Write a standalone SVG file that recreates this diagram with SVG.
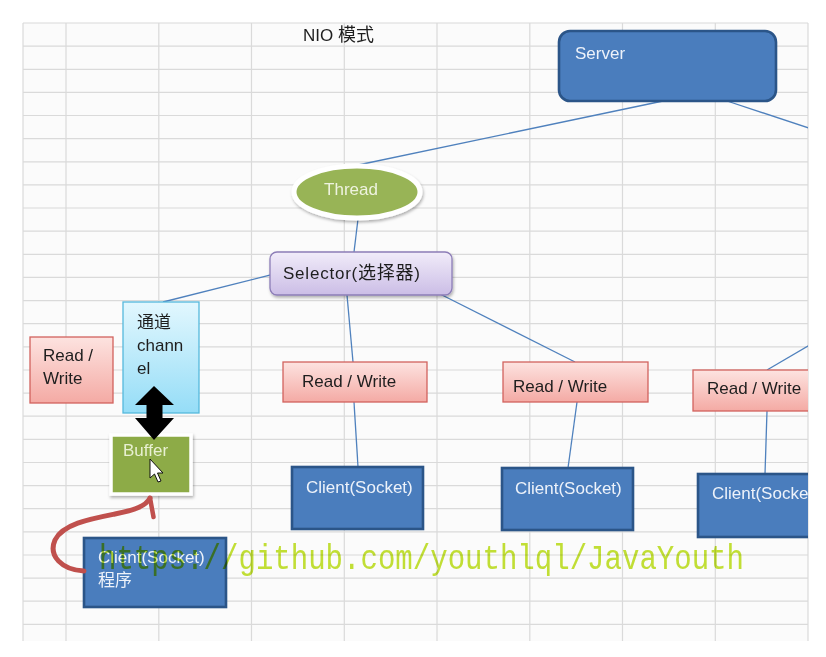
<svg xmlns="http://www.w3.org/2000/svg" width="826" height="657" viewBox="0 0 826 657">
<defs>
<style>
.grid line{stroke:#dadada;stroke-width:1.2}
.conn{stroke:#4f81bd;stroke-width:1.3;fill:none}
.blue{fill:#4a7dbd;stroke:#2b5588;stroke-width:2.6}
.pink{fill:url(#gPink);stroke:#d2625d;stroke-width:1.3}
.lt{font-family:"Liberation Sans","Noto Sans CJK SC",sans-serif;font-size:17px}
.wt{fill:#edf2fa}
.dk{fill:#1e1e1e}
</style>
<linearGradient id="gPink" x1="0" y1="0" x2="0" y2="1">
<stop offset="0" stop-color="#fde3e0"/><stop offset="1" stop-color="#f4aaa4"/>
</linearGradient>
<linearGradient id="gBlue" x1="0" y1="0" x2="0" y2="1">
<stop offset="0" stop-color="#e2f7fe"/><stop offset="1" stop-color="#95ddf7"/>
</linearGradient>
<linearGradient id="gLav" x1="0" y1="0" x2="0" y2="1">
<stop offset="0" stop-color="#f1ecf9"/><stop offset="1" stop-color="#cbbde6"/>
</linearGradient>
<filter id="sh" x="-20%" y="-20%" width="140%" height="150%">
<feDropShadow dx="1" dy="2" stdDeviation="1.8" flood-color="#000" flood-opacity="0.3"/>
</filter>
<clipPath id="clipR"><rect x="0" y="0" width="808" height="657"/></clipPath>
</defs>
<rect width="826" height="657" fill="#ffffff"/>
<g id="grid" class="grid">
<rect x="23" y="23" width="785" height="618" fill="#fbfbfb"/>
<line x1="23" y1="23" x2="23" y2="641"/>
<line x1="66" y1="23" x2="66" y2="641"/>
<line x1="158.8" y1="23" x2="158.8" y2="641"/>
<line x1="251.5" y1="23" x2="251.5" y2="641"/>
<line x1="344.3" y1="23" x2="344.3" y2="641"/>
<line x1="437" y1="23" x2="437" y2="641"/>
<line x1="529.8" y1="23" x2="529.8" y2="641"/>
<line x1="622.5" y1="23" x2="622.5" y2="641"/>
<line x1="715.3" y1="23" x2="715.3" y2="641"/>
<line x1="808" y1="23" x2="808" y2="641"/>
<line x1="23" y1="23" x2="808" y2="23"/>
<line x1="23" y1="46.1" x2="808" y2="46.1"/>
<line x1="23" y1="69.3" x2="808" y2="69.3"/>
<line x1="23" y1="92.4" x2="808" y2="92.4"/>
<line x1="23" y1="115.5" x2="808" y2="115.5"/>
<line x1="23" y1="138.7" x2="808" y2="138.7"/>
<line x1="23" y1="161.8" x2="808" y2="161.8"/>
<line x1="23" y1="184.9" x2="808" y2="184.9"/>
<line x1="23" y1="208" x2="808" y2="208"/>
<line x1="23" y1="231.2" x2="808" y2="231.2"/>
<line x1="23" y1="254.3" x2="808" y2="254.3"/>
<line x1="23" y1="277.4" x2="808" y2="277.4"/>
<line x1="23" y1="300.6" x2="808" y2="300.6"/>
<line x1="23" y1="323.7" x2="808" y2="323.7"/>
<line x1="23" y1="346.8" x2="808" y2="346.8"/>
<line x1="23" y1="370" x2="808" y2="370"/>
<line x1="23" y1="393.1" x2="808" y2="393.1"/>
<line x1="23" y1="416.2" x2="808" y2="416.2"/>
<line x1="23" y1="439.3" x2="808" y2="439.3"/>
<line x1="23" y1="462.5" x2="808" y2="462.5"/>
<line x1="23" y1="485.6" x2="808" y2="485.6"/>
<line x1="23" y1="508.7" x2="808" y2="508.7"/>
<line x1="23" y1="531.9" x2="808" y2="531.9"/>
<line x1="23" y1="555" x2="808" y2="555"/>
<line x1="23" y1="578.1" x2="808" y2="578.1"/>
<line x1="23" y1="601.2" x2="808" y2="601.2"/>
<line x1="23" y1="624.4" x2="808" y2="624.4"/>
</g>
<text id="title" class="lt dk" x="303" y="41">NIO <tspan font-size="18">模式</tspan></text>
<g id="connectors" clip-path="url(#clipR)">
<path class="conn" d="M663,101 L358,165"/>
<path class="conn" d="M727,101 L830,135"/>
<path class="conn" d="M358,219 L354,252"/>
<path class="conn" d="M290,270 L163,302"/>
<path class="conn" d="M347,295 L353,362"/>
<path class="conn" d="M440,294 L575,362"/>
<path class="conn" d="M354,402 L358,467"/>
<path class="conn" d="M577,402 L568,468"/>
<path class="conn" d="M767,370 L830,333"/>
<path class="conn" d="M767,411 L765,474"/>
</g>
<g id="server">
<rect x="559" y="31" width="217" height="70" rx="11" class="blue" stroke-width="3"/>
<text class="lt wt" x="575" y="59">Server</text>
</g>
<g id="thread">
<ellipse cx="357" cy="192" rx="63" ry="26" fill="#98b456" stroke="#ffffff" stroke-width="5" filter="url(#sh)"/>
<text class="lt" fill="#eef3df" x="351" y="195" text-anchor="middle">Thread</text>
</g>
<g id="selector">
<rect x="270" y="252" width="182" height="43" rx="7" fill="url(#gLav)" stroke="#8c7db7" stroke-width="1.3" filter="url(#sh)"/>
<text class="lt dk" x="283" y="279" textLength="137">Selector(<tspan font-size="18">选择器</tspan>)</text>
</g>
<g id="rw-left">
<rect x="30" y="337" width="83" height="66" class="pink"/>
<text class="lt dk" x="43" y="361">Read /</text>
<text class="lt dk" x="43" y="384">Write</text>
</g>
<g id="channel">
<rect x="123" y="302" width="76" height="111" fill="url(#gBlue)" stroke="#55b8dc" stroke-width="1.3"/>
<text class="lt dk" x="137" y="328" font-size="18">通道</text>
<text class="lt dk" x="137" y="351">chann</text>
<text class="lt dk" x="137" y="374">el</text>
</g>
<g id="buffer">
<rect x="111" y="435" width="80" height="59" fill="#8dab47" stroke="#ffffff" stroke-width="3.5" filter="url(#sh)"/>
<text class="lt" fill="#e8f0d2" x="123" y="456">Buffer</text>
<polygon points="150,459 150,478 154.5,474 158,482 161,481 157.5,473 163,473" fill="#ffffff" stroke="#111" stroke-width="1" stroke-linejoin="round"/>
</g>
<g id="rw-mid">
<rect x="283" y="362" width="144" height="40" class="pink"/>
<text class="lt dk" x="302" y="387">Read / Write</text>
</g>
<g id="rw-right">
<rect x="503" y="362" width="145" height="40" class="pink"/>
<text class="lt dk" x="513" y="392">Read / Write</text>
</g>
<g id="rw-far" clip-path="url(#clipR)">
<rect x="693" y="370" width="140" height="41" class="pink"/>
<text class="lt dk" x="707" y="394">Read / Write</text>
</g>
<g id="client-mid">
<rect x="292" y="467" width="131" height="62" class="blue"/>
<text class="lt wt" x="306" y="493">Client(Socket)</text>
</g>
<g id="client-right">
<rect x="502" y="468" width="131" height="62" class="blue"/>
<text class="lt wt" x="515" y="494">Client(Socket)</text>
</g>
<g id="client-far" clip-path="url(#clipR)">
<rect x="698" y="474" width="135" height="63" class="blue"/>
<text class="lt wt" x="712" y="499">Client(Socket)</text>
</g>
<g id="client-program">
<rect x="84" y="538" width="142" height="69" class="blue"/>
<text class="lt wt" x="98" y="563">Client(Socket)</text>
<text class="lt wt" x="98" y="586" font-size="18">程序</text>
</g>
<g id="connectors-front">
<polygon points="154,386 174,405 162.5,405 162.5,418 174,418 154,440 135,418 146.5,418 146.5,405 135,405" fill="#000000"/>
<path d="M84,571 C62,570 48,556 55,540 C63,524 90,519 115,514 C135,510 146,506 150,498" fill="none" stroke="#c0504d" stroke-width="5" stroke-linecap="round"/>
<path d="M150,498 L153.5,517" fill="none" stroke="#c0504d" stroke-width="4.5" stroke-linecap="round"/>
</g>
<text id="watermark" transform="translate(99,569) scale(1,1.18)" x="0" y="0" font-family="Liberation Mono, monospace" font-size="29" textLength="645" lengthAdjust="spacingAndGlyphs" fill="#c4e236" style="mix-blend-mode:multiply">https://github.com/youthlql/JavaYouth</text>
</svg>
